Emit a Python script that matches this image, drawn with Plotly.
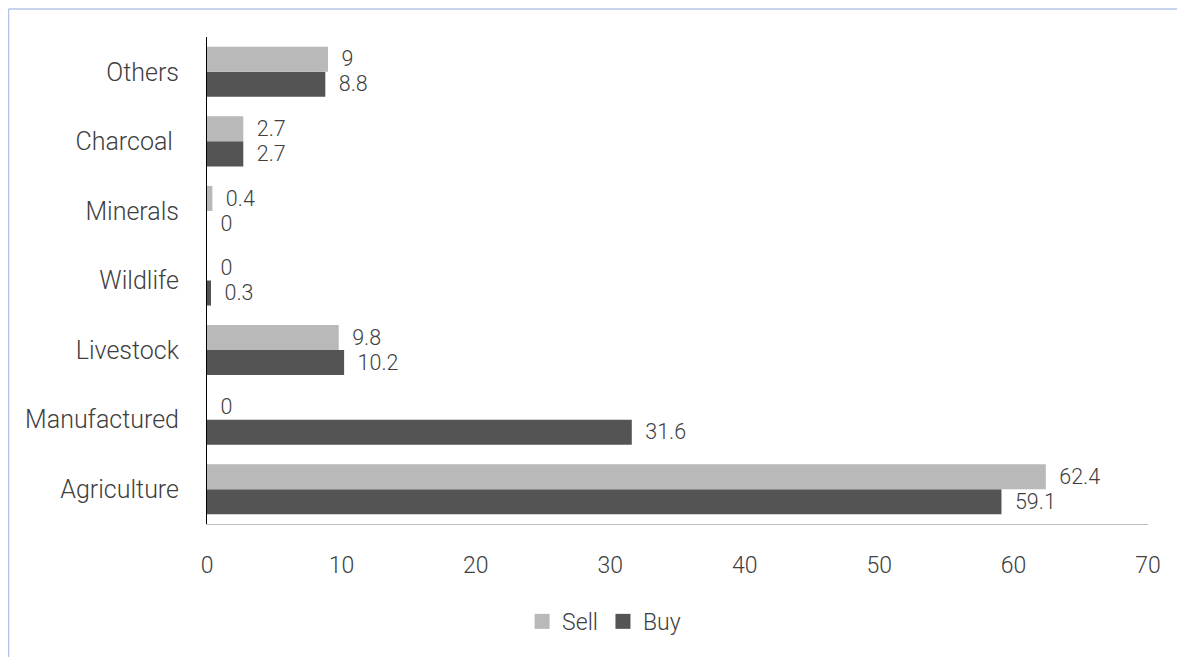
import plotly.graph_objects as go

categories = ["Agriculture", "Manufactured", "Livestock", "Wildlife", "Minerals", "Charcoal\u00a0", "Others"]
sell = [62.4, 0, 9.8, 0, 0.4, 2.7, 9]
buy = [59.1, 31.6, 10.2, 0.3, 0, 2.7, 8.8]
x_ticks = [0, 10, 20, 30, 40, 50, 60, 70]

FONT = "Roboto"
TXT = "#404040"
PAD = "\u00a0\u00a0"
SELL_C = "#b9b9b9"
BUY_C = "#545454"

fig = go.Figure()
fig.add_trace(go.Bar(
    y=categories, x=buy, name="Buy", orientation="h",
    marker=dict(color=BUY_C, line=dict(width=0)),
    text=[f"{PAD}{v:g}" for v in buy], textposition="outside",
    textfont=dict(family=FONT, size=24, color=TXT, weight=300),
    cliponaxis=False, showlegend=False,
))
fig.add_trace(go.Bar(
    y=categories, x=sell, name="Sell", orientation="h",
    marker=dict(color=SELL_C, line=dict(width=0)),
    text=[f"{PAD}{v:g}" for v in sell], textposition="outside",
    textfont=dict(family=FONT, size=24, color=TXT, weight=300),
    cliponaxis=False, showlegend=False,
))
# legend entries
for name, col, rank in [("Sell", SELL_C, 1), ("Buy", BUY_C, 2)]:
    fig.add_trace(go.Scatter(x=[None], y=[None], mode="markers", name=name,
                             marker=dict(symbol="square", size=15, color=col),
                             legendrank=rank, showlegend=True))

fig.update_layout(
    width=1185, height=657, autosize=False,
    margin=dict(l=199, r=45, t=29, b=141, autoexpand=False),
    paper_bgcolor="white", plot_bgcolor="white",
    barmode="group", bargap=0.28, bargroupgap=0,
    font=dict(family=FONT, color=TXT, weight=300),
    showlegend=True,
    legend=dict(orientation="h", x=0.422, xanchor="center",
                y=-0.2, yanchor="middle", font=dict(size=23, family=FONT, color=TXT, weight=300),
                tracegroupgap=0, itemwidth=30),
    xaxis=dict(range=[0, 70], tickvals=x_ticks, showgrid=False, zeroline=False,
               showline=True, linecolor="#bfbfbf", linewidth=1, automargin=False,
               tickfont=dict(size=23, family=FONT, color=TXT, weight=300),
               ticks="", ticklabelstandoff=20),
    yaxis=dict(showgrid=False, zeroline=False, showline=True, linecolor="black", linewidth=1,
               automargin=False,
               tickfont=dict(size=25, family=FONT, color=TXT, weight=300),
               ticks="", ticklabelstandoff=22),
    shapes=[
        dict(type="line", xref="paper", yref="paper", x0=-0.2109, x1=1.2, y0=1.0575, y1=1.0575,
             line=dict(color="#b4c4e4", width=1.5)),
        dict(type="line", xref="paper", yref="paper", x0=-0.2109, x1=-0.2109, y0=1.0575, y1=-0.5,
             line=dict(color="#b4c4e4", width=1.5)),
    ],
)

fig.write_html("out.html")
